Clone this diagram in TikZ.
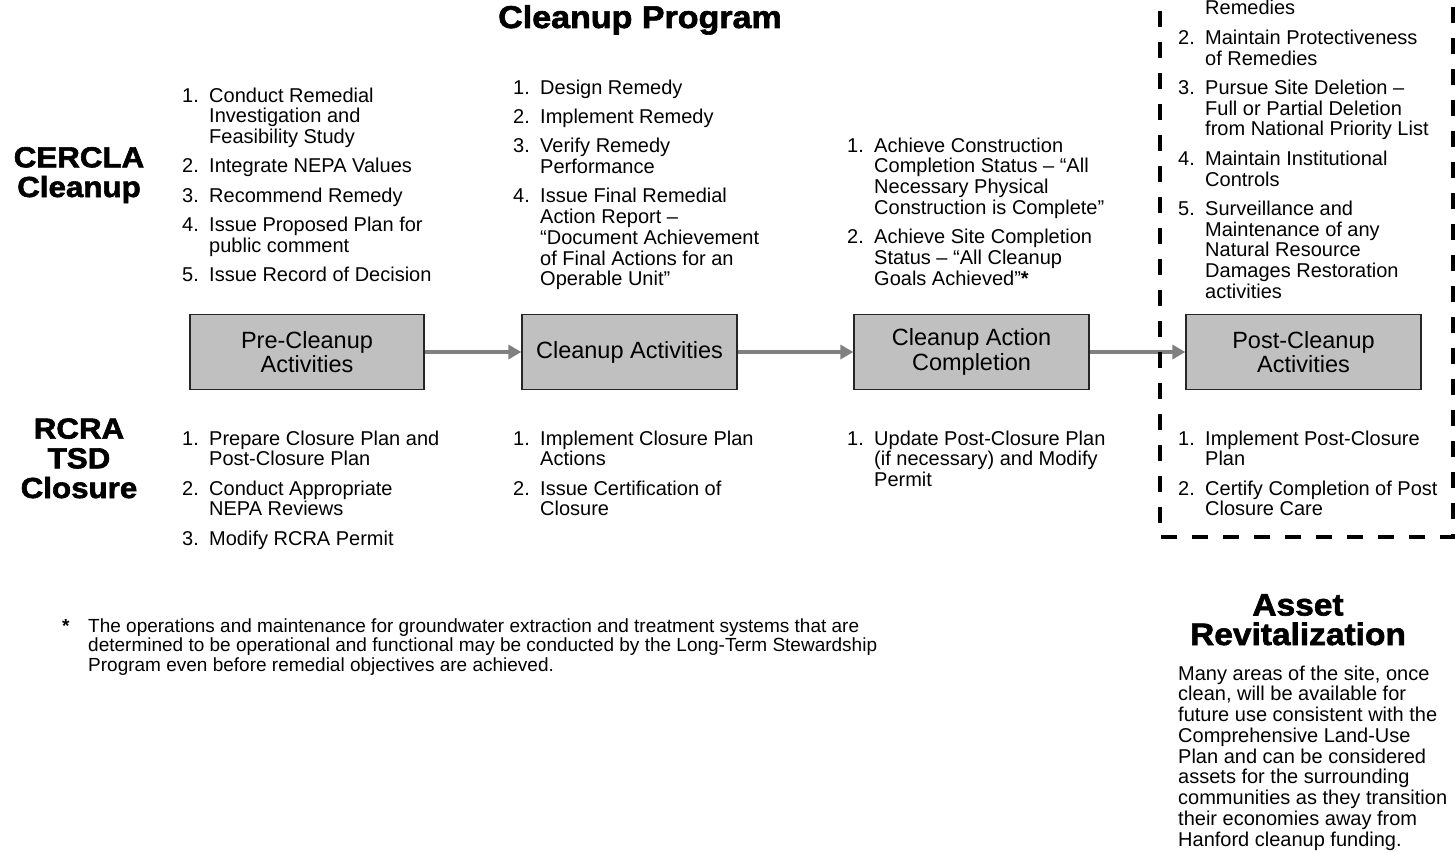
\documentclass[tikz,border=0pt]{standalone}
\usepackage{fontspec}
\setmainfont{Liberation Sans}
\newfontfamily\heavy[FakeBold=2,FakeStretch=1.08]{Liberation Sans Bold}
\usetikzlibrary{arrows.meta}

% numbered step list: number column, then the wrapped text column
\newcommand\steplist[1]{\begin{tabular}[t]{@{}p{27pt}@{}l@{}}#1\end{tabular}}
\newcommand\gap{\\[8.5pt]}

\definecolor{boxfill}{HTML}{C0C0C0}
\definecolor{flowgray}{HTML}{808080}

\tikzset{
  stage/.style={draw=black!85, line width=1.3pt, fill=boxfill, minimum height=75pt,
    align=center, inner sep=0pt, font=\fontsize{23.5}{24.5}\selectfont},
  flow/.style={draw=flowgray, line width=4pt, -{Triangle[length=13pt,width=14pt]}},
  steps/.style={anchor=base west, inner sep=0pt, font=\fontsize{20}{20.8}\selectfont},
  heading/.style={anchor=base, inner sep=0pt, align=center,
    font=\heavy\fontsize{29}{29.7}\selectfont},
  dashframe/.style={line width=4.5pt, dash pattern=on 16pt off 15pt},
}

\begin{document}
\begin{tikzpicture}[x=1pt,y=-1pt]
\useasboundingbox (0,0) rectangle (1455,851);

% headings (multi-line nodes sit on the baseline of their last line)
\node[heading, font=\heavy\fontsize{31.5}{32}\selectfont] (title) at (640,28) {Cleanup Program};
\node[heading] (cercla) at (79,197) {CERCLA\\Cleanup};
\node[heading] (rcra) at (79,498) {RCRA\\TSD\\Closure};
\node[heading, font=\heavy\fontsize{31}{29.5}\selectfont] (asset) at (1298,645) {Asset\\Revitalization};

% stage boxes
\node[stage, minimum width=234pt] (pre)  at (307,352)   {Pre-Cleanup\\Activities};
\node[stage, minimum width=215pt] (act)  at (629.5,352) {Cleanup Activities};
\node[stage, minimum width=235pt] (comp) at (971.5,352) {Cleanup Action\\Completion};
\node[stage, minimum width=235pt] (post) at (1303.5,352) {Post-Cleanup\\Activities};

\draw[flow] (pre.east) -- (act.west);
\draw[flow] (act.east) -- (comp.west);
\draw[flow] (comp.east) -- (post.west);

% long-term stewardship frame
\draw[dashframe] (1160,-20) -- (1160,537) -- (1453,537) -- (1453,-20);

% CERCLA steps
\node[steps] (cpre) at (182,102) {\steplist{
1.&Conduct Remedial\\&Investigation and\\&Feasibility Study\gap
2.&Integrate NEPA Values\gap
3.&Recommend Remedy\gap
4.&Issue Proposed Plan for\\&public comment\gap
5.&Issue Record of Decision}};

\node[steps] (cact) at (513,94) {\steplist{
1.&Design Remedy\gap
2.&Implement Remedy\gap
3.&Verify Remedy\\&Performance\gap
4.&Issue Final Remedial\\&Action Report –\\&“Document Achievement\\&of Final Actions for an\\&Operable Unit”}};

\node[steps] (ccomp) at (847,152) {\steplist{
1.&Achieve Construction\\&Completion Status – “All\\&Necessary Physical\\&Construction is Complete”\gap
2.&Achieve Site Completion\\&Status – “All Cleanup\\&Goals Achieved”\textbf{*}}};

\node[steps] (cpost) at (1178,15) {\steplist{
&Remedies\gap
2.&Maintain Protectiveness\\&of Remedies\gap
3.&Pursue Site Deletion –\\&Full or Partial Deletion\\&from National Priority List\gap
4.&Maintain Institutional\\&Controls\gap
5.&Surveillance and\\&Maintenance of any\\&Natural Resource\\&Damages Restoration\\&activities}};

% RCRA steps
\node[steps] (rpre) at (182,445) {\steplist{
1.&Prepare Closure Plan and\\&Post-Closure Plan\gap
2.&Conduct Appropriate\\&NEPA Reviews\gap
3.&Modify RCRA Permit}};

\node[steps] (ract) at (513,445) {\steplist{
1.&Implement Closure Plan\\&Actions\gap
2.&Issue Certification of\\&Closure}};

\node[steps] (rcomp) at (847,445) {\steplist{
1.&Update Post-Closure Plan\\&(if necessary) and Modify\\&Permit}};

\node[steps] (rpost) at (1178,445) {\steplist{
1.&Implement Post-Closure\\&Plan\gap
2.&Certify Completion of Post\\&Closure Care}};

% footnote
\node[steps, font=\bfseries\fontsize{19}{19.5}\selectfont] (star) at (62,632) {*};
\node[steps, font=\fontsize{19}{19.5}\selectfont, align=left] (note) at (88,671)
{The operations and maintenance for groundwater extraction and treatment systems that are\\
determined to be operational and functional may be conducted by the Long-Term Stewardship\\
Program even before remedial objectives are achieved.};

% asset revitalization text
\node[steps, font=\fontsize{20}{20.75}\selectfont, align=left] (assettext) at (1178,846)
{Many areas of the site, once\\clean, will be available for\\future use consistent with the\\Comprehensive Land-Use\\Plan and can be considered\\assets for the surrounding\\communities as they transition\\their economies away from\\Hanford cleanup funding.};
\end{tikzpicture}
\end{document}
